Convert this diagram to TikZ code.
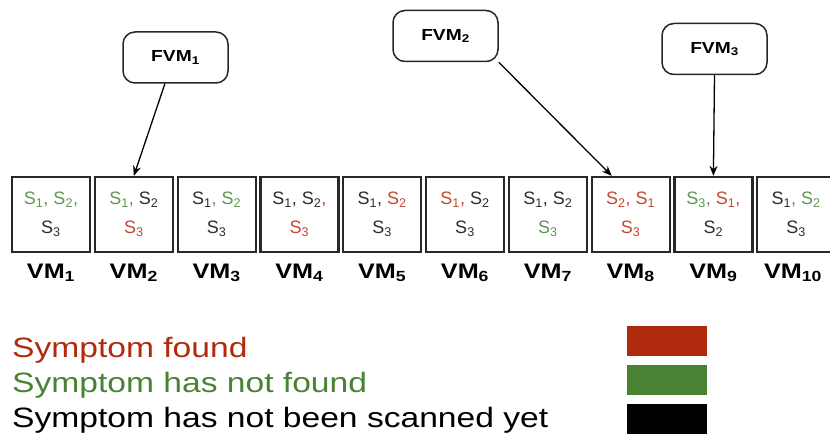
\documentclass[tikz,border=0pt]{standalone}
\usepackage{fontspec}
\setmainfont{Liberation Sans}
\newfontfamily\widefont[FakeStretch=1.2]{Liberation Sans}
\newfontfamily\plainfont{Liberation Sans}
\usetikzlibrary{arrows.meta}

\definecolor{symred}{RGB}{176,42,14}
\definecolor{symgreen}{RGB}{74,130,52}
\definecolor{boxred}{RGB}{196,72,48}
\definecolor{boxgreen}{RGB}{96,150,82}
\definecolor{textgray}{RGB}{45,45,45}
\definecolor{boxgray}{RGB}{40,40,40}

\newcommand{\ssub}[1]{\textsubscript{#1}}
\newcommand{\ingreen}[1]{\textcolor{boxgreen}{#1}}
\newcommand{\inred}[1]{\textcolor{boxred}{#1}}
\newcommand{\boxfont}{\plainfont\fontsize{18}{29}\selectfont}
\newcommand{\vmfont}{\widefont\bfseries\fontsize{21}{25}\selectfont}
\newcommand{\fvmfont}{\widefont\bfseries\fontsize{16}{19}\selectfont}
\newcommand{\legfont}{\widefont\fontsize{28}{33}\selectfont}

\begin{document}
\begin{tikzpicture}[x=1pt,y=-1pt,
  vmbox/.style={draw=boxgray, line width=2.2pt, minimum width=78pt, minimum height=75pt,
    inner sep=0pt, align=center, text=textgray, font=\boxfont},
  vmlabel/.style={font=\vmfont, inner sep=0pt, text=black},
  fvmbox/.style={draw=black!85, line width=1.5pt, rounded corners=12pt,
    minimum width=105pt, minimum height=51pt, font=\fvmfont},
  link/.style={line width=1.3pt, -{Stealth[length=10pt,width=8pt]}},
  legtext/.style={font=\legfont, anchor=base west, inner sep=0pt},
  legkey/.style={minimum width=80pt, minimum height=30pt, inner sep=0pt}]
\useasboundingbox (0,0) rectangle (830,444);

% row of virtual machines
\node[vmbox] (vm1)  at (51,214.5)    {\ingreen{S\ssub{1}, S\ssub{2},}\\ S\ssub{3}};
\node[vmbox] (vm2)  at (133.8,214.5) {\ingreen{S\ssub{1},} S\ssub{2}\\ \inred{S\ssub{3}}};
\node[vmbox] (vm3)  at (216.6,214.5) {S\ssub{1}\ingreen{, S\ssub{2}}\\ S\ssub{3}};
\node[vmbox] (vm4)  at (299.4,214.5) {S\ssub{1}, S\ssub{2}\inred{,}\\ \inred{S\ssub{3}}};
\node[vmbox] (vm5)  at (382.2,214.5) {S\ssub{1}, \inred{S\ssub{2}}\\ S\ssub{3}};
\node[vmbox] (vm6)  at (465,214.5)   {\inred{S\ssub{1},} S\ssub{2}\\ S\ssub{3}};
\node[vmbox] (vm7)  at (547.8,214.5) {S\ssub{1}, S\ssub{2}\\ \ingreen{S\ssub{3}}};
\node[vmbox] (vm8)  at (630.6,214.5) {\inred{S\ssub{2}, S\ssub{1}}\\ \inred{S\ssub{3}}};
\node[vmbox] (vm9)  at (713.4,214.5) {\ingreen{S\ssub{3},} \inred{S\ssub{1},}\\ S\ssub{2}};
\node[vmbox] (vm10) at (796.2,214.5) {S\ssub{1}\ingreen{, S\ssub{2}}\\ S\ssub{3}};

% machine names
\node[vmlabel] (n1)  at (51,273)    {VM\ssub{1}};
\node[vmlabel] (n2)  at (133.8,273) {VM\ssub{2}};
\node[vmlabel] (n3)  at (216.6,273) {VM\ssub{3}};
\node[vmlabel] (n4)  at (299.4,273) {VM\ssub{4}};
\node[vmlabel] (n5)  at (382.2,273) {VM\ssub{5}};
\node[vmlabel] (n6)  at (465,273)   {VM\ssub{6}};
\node[vmlabel] (n7)  at (547.8,273) {VM\ssub{7}};
\node[vmlabel] (n8)  at (630.6,273) {VM\ssub{8}};
\node[vmlabel] (n9)  at (713.4,273) {VM\ssub{9}};
\node[vmlabel] (n10) at (793,273)   {VM\ssub{10}};

% forensic VMs
\node[fvmbox] (fvm1) at (175.5,57.5) {FVM\ssub{1}};
\node[fvmbox] (fvm2) at (445.5,36)   {FVM\ssub{2}};
\node[fvmbox] (fvm3) at (714.5,49)   {FVM\ssub{3}};

\draw[link] (fvm1.248) -- (vm2.north);
\draw[link] (fvm2.south east) -- (vm8.116);
\draw[link] (fvm3.south) -- (vm9.north);

% legend
\node[legtext, text=symred]   (l1) at (12,357) {Symptom found};
\node[legtext, text=symgreen] (l2) at (12,392) {Symptom has not found};
\node[legtext, text=black]    (l3) at (12,427) {Symptom has not been scanned yet};
\node[legkey, fill=symred]   (k1) at (667,341)   {};
\node[legkey, fill=symgreen] (k2) at (667,379.5) {};
\node[legkey, fill=black]    (k3) at (667,418.5) {};
\end{tikzpicture}
\end{document}
